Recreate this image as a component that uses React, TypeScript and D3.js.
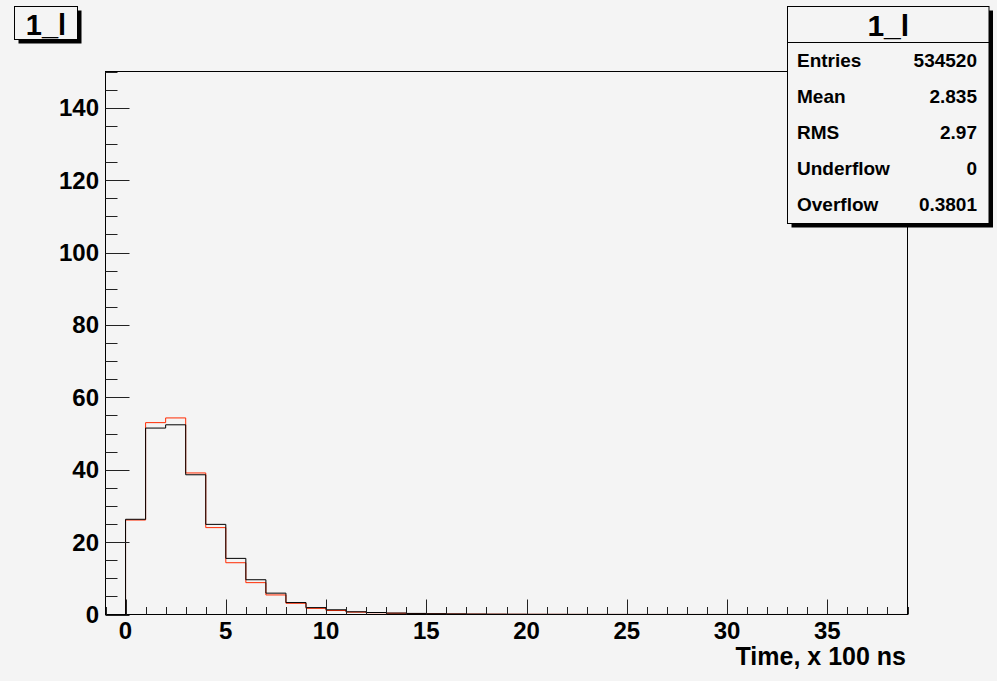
import React, { useRef, useEffect } from 'react';
import * as d3 from 'd3';

// histogram bins, width 1, starting at -1 (black = main, red = reference)
const binStart = -1;
const blackValues = [
  0, 26.3, 51.5, 52.4, 38.6, 24.9, 15.5, 9.6, 5.9, 3.3,
  1.9, 1.3, 0.75, 0.55, 0.4, 0.3, 0.22, 0.16, 0.12, 0.09,
  0.07, 0.05, 0.04, 0.03, 0.02, 0.02, 0.015, 0.01, 0.01, 0.008,
  0.006, 0.005, 0.004, 0.003, 0.003, 0.002, 0.002, 0.001, 0.001, 0.001,
];
const redValues = [
  0, 26.1, 53.0, 54.3, 39.1, 24.0, 14.3, 8.8, 5.4, 3.1,
  1.7, 1.1, 0.66, 0.5, 0.35, 0.26, 0.19, 0.14, 0.1, 0.08,
  0.06, 0.045, 0.035, 0.025, 0.02, 0.015, 0.012, 0.01, 0.008, 0.006,
  0.005, 0.004, 0.003, 0.003, 0.002, 0.002, 0.001, 0.001, 0.001, 0.001,
];
const xTicks = [0, 5, 10, 15, 20, 25, 30, 35];
const yTicks = [0, 20, 40, 60, 80, 100, 120, 140];
const statLabels = ['Entries', 'Mean', 'RMS', 'Underflow', 'Overflow'];
const statValues = ['534520', '2.835', '2.97', '0', '0.3801'];
const histTitle = '1_l';
const xTitle = 'Time, x 100 ns';

function Histogram() {
  const ref = useRef<SVGSVGElement>(null);

  useEffect(() => {
    const width = 997;
    const height = 681;
    const left = 105.5, right = 907.5, top = 71.5, bottom = 614.5;
    const font = "'Liberation Sans', Arial, Helvetica, sans-serif";

    const svg = d3.select(ref.current)
      .attr('width', width)
      .attr('height', height)
      .attr('viewBox', [0, 0, width, height].join(' '));
    svg.selectAll('*').remove();

    svg.append('rect')
      .attr('width', width).attr('height', height)
      .attr('fill', '#f4f4f4');

    const x = d3.scaleLinear([-1, 39], [left, right]);
    const y = d3.scaleLinear([0, 150], [bottom, top]);

    // step outline of a histogram
    const stepPath = (vals: number[]) => {
      const pts: [number, number][] = [[x(binStart), y(0)]];
      vals.forEach((v, i) => {
        pts.push([x(binStart + i), y(v)]);
        pts.push([x(binStart + i + 1), y(v)]);
      });
      pts.push([x(binStart + vals.length), y(0)]);
      return d3.line()(pts);
    };

    svg.append('path')
      .attr('d', stepPath(redValues))
      .attr('fill', 'none')
      .attr('stroke', '#ff2a00')
      .attr('stroke-width', 1);
    svg.append('path')
      .attr('d', stepPath(blackValues))
      .attr('fill', 'none')
      .attr('stroke', '#000')
      .attr('stroke-width', 1);

    // frame
    svg.append('rect')
      .attr('x', left).attr('y', top)
      .attr('width', right - left).attr('height', bottom - top)
      .attr('fill', 'none').attr('stroke', '#000').attr('stroke-width', 1);

    // y ticks
    const yAxis = svg.append('g');
    d3.range(0, 151, 5).forEach(v => {
      const major = v % 20 === 0;
      yAxis.append('line')
        .attr('x1', left).attr('x2', left + (major ? 24 : 12))
        .attr('y1', Math.round(y(v)) + 0.5).attr('y2', Math.round(y(v)) + 0.5)
        .attr('stroke', '#222').attr('stroke-width', 1);
    });
    yAxis.selectAll('text')
      .data(yTicks)
      .join('text')
      .attr('x', 99)
      .attr('y', d => y(d) + 8.5)
      .attr('text-anchor', 'end')
      .attr('font-family', font)
      .attr('font-weight', 'bold')
      .attr('font-size', 24)
      .text(d => d);

    // x ticks
    const xAxis = svg.append('g');
    d3.range(-1, 40, 1).forEach(v => {
      const major = v % 5 === 0;
      xAxis.append('line')
        .attr('x1', Math.round(x(v)) + 0.5).attr('x2', Math.round(x(v)) + 0.5)
        .attr('y1', bottom).attr('y2', bottom - (major ? 15 : 7.5))
        .attr('stroke', '#222').attr('stroke-width', 1);
    });
    xAxis.selectAll('text')
      .data(xTicks)
      .join('text')
      .attr('x', d => x(d))
      .attr('y', 639)
      .attr('text-anchor', 'middle')
      .attr('font-family', font)
      .attr('font-weight', 'bold')
      .attr('font-size', 24)
      .text(d => d);

    svg.append('text')
      .attr('x', 906).attr('y', 665)
      .attr('text-anchor', 'end')
      .attr('font-family', font)
      .attr('font-weight', 'bold')
      .attr('font-size', 25)
      .text(xTitle);

    // title box
    const tb = { x: 14.5, y: 6.5, w: 63, h: 33 };
    svg.append('rect')
      .attr('x', tb.x + 4).attr('y', tb.y + 4).attr('width', tb.w).attr('height', tb.h)
      .attr('fill', '#000');
    svg.append('rect')
      .attr('x', tb.x).attr('y', tb.y).attr('width', tb.w).attr('height', tb.h)
      .attr('fill', '#f4f4f4').attr('stroke', '#000').attr('stroke-width', 1);
    svg.append('text')
      .attr('x', tb.x + tb.w / 2).attr('y', 35)
      .attr('text-anchor', 'middle')
      .attr('font-family', font)
      .attr('font-weight', 'bold')
      .attr('font-size', 29)
      .text(histTitle);

    // stats box
    const sb = { x: 787.5, y: 6.5, w: 201.5, h: 217 };
    svg.append('rect')
      .attr('x', sb.x + 4).attr('y', sb.y + 4).attr('width', sb.w).attr('height', sb.h)
      .attr('fill', '#000');
    svg.append('rect')
      .attr('x', sb.x).attr('y', sb.y).attr('width', sb.w).attr('height', sb.h)
      .attr('fill', '#f4f4f4').attr('stroke', '#000').attr('stroke-width', 1);
    svg.append('line')
      .attr('x1', sb.x).attr('x2', sb.x + sb.w)
      .attr('y1', 42.5).attr('y2', 42.5)
      .attr('stroke', '#000').attr('stroke-width', 1);
    svg.append('text')
      .attr('x', sb.x + sb.w / 2).attr('y', 36)
      .attr('text-anchor', 'middle')
      .attr('font-family', font)
      .attr('font-weight', 'bold')
      .attr('font-size', 30)
      .text(histTitle);

    const rowY = (i: number) => 67 + i * 36;
    svg.append('g').selectAll('text')
      .data(statLabels)
      .join('text')
      .attr('x', 797).attr('y', (_, i) => rowY(i))
      .attr('font-family', font)
      .attr('font-weight', 'bold')
      .attr('font-size', 19)
      .text(d => d);
    svg.append('g').selectAll('text')
      .data(statValues)
      .join('text')
      .attr('x', 977).attr('y', (_, i) => rowY(i))
      .attr('text-anchor', 'end')
      .attr('font-family', font)
      .attr('font-weight', 'bold')
      .attr('font-size', 19)
      .text(d => d);
  }, []);

  return <svg ref={ref} style={{ position: 'absolute', left: 0, top: 0 }}></svg>;
}

export default function App() {
  return <Histogram />;
}
